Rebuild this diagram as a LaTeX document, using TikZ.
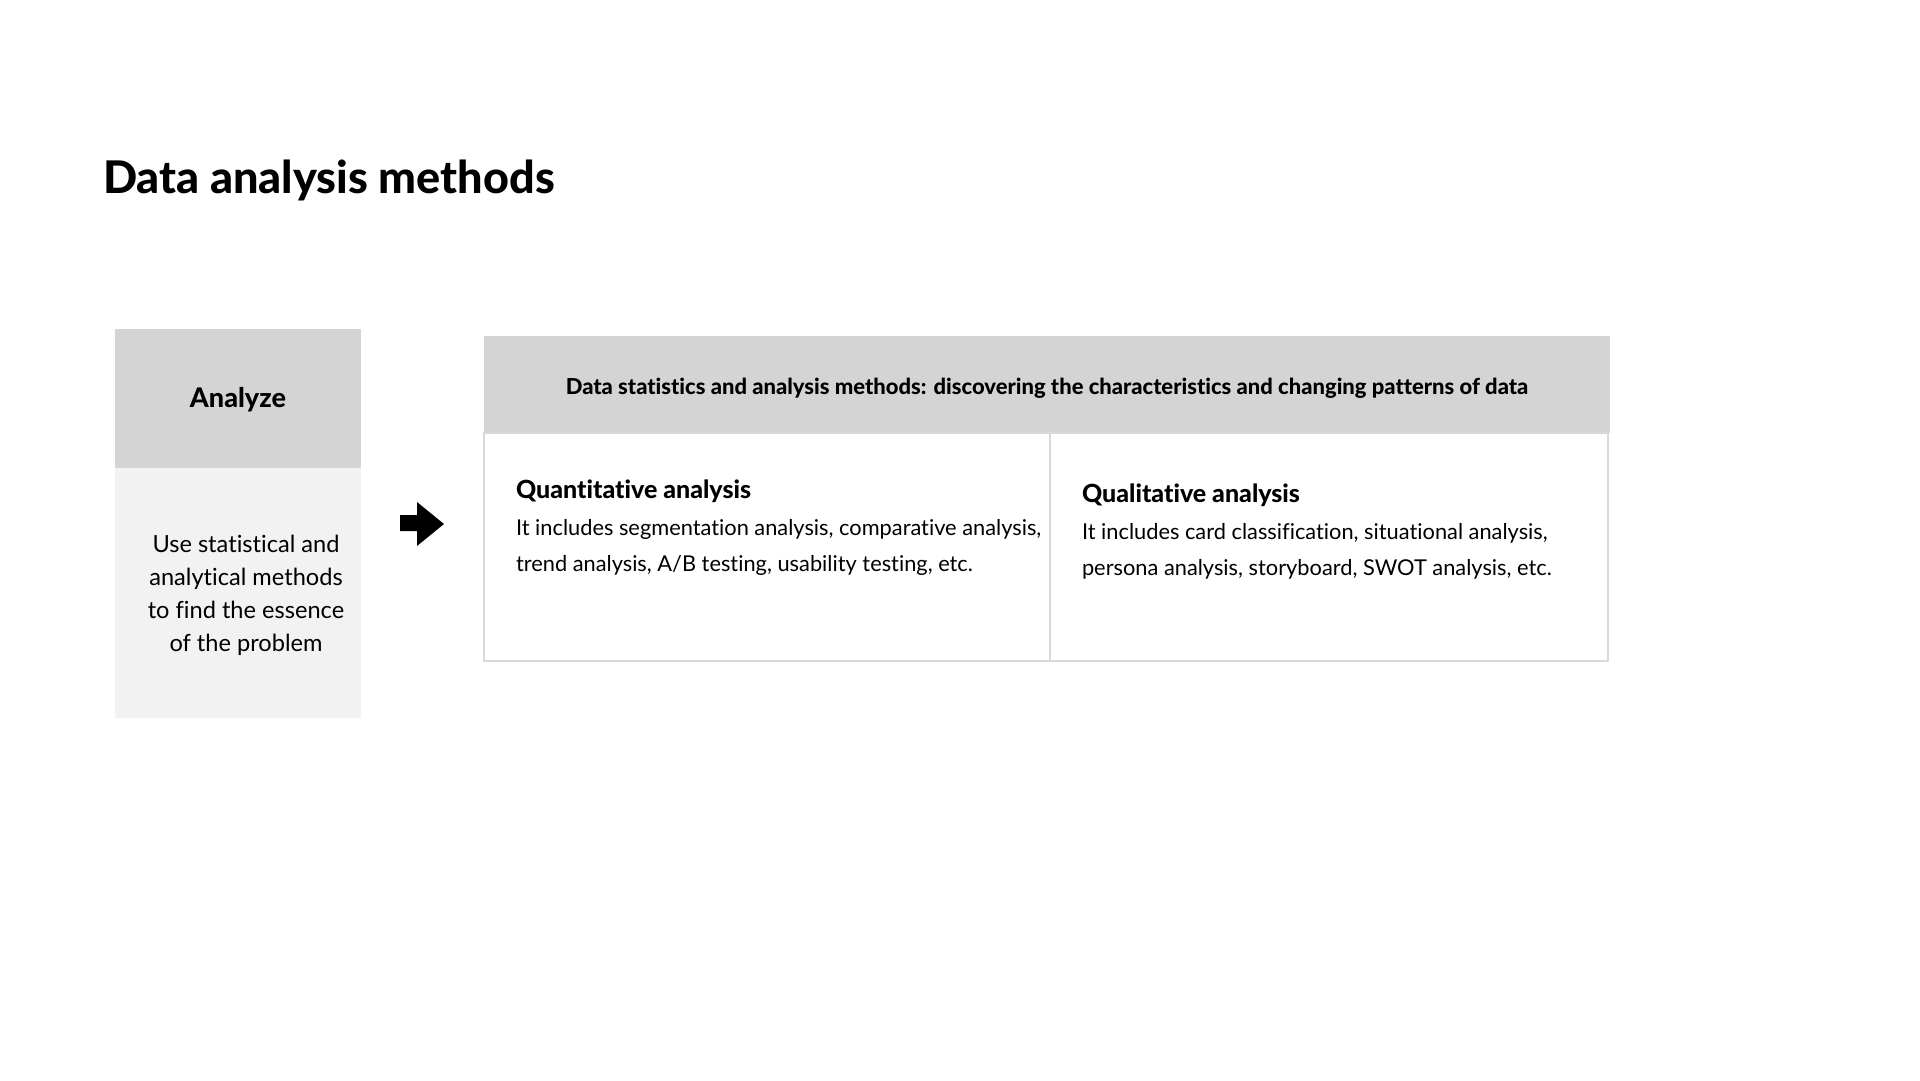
\documentclass[tikz,border=0pt]{standalone}
\usepackage{fontspec}
\setmainfont{Lato}[Ligatures=NoCommon]
\IfFontExistsTF{Lato Heavy}{\newfontfamily\heavy{Lato Heavy}[Ligatures=NoCommon]}{\newfontfamily\heavy{Lato}[Ligatures=NoCommon,UprightFont=*-Bold]}
\definecolor{hdrgray}{HTML}{D4D4D4}
\definecolor{lightbg}{HTML}{F1F2F1}
\definecolor{rulegray}{HTML}{D9D9D9}
\begin{document}
\begin{tikzpicture}[x=1pt,y=-1pt,
  every node/.style={inner sep=0pt, outer sep=0pt},
  titletxt/.style={font=\fontsize{45}{52}\selectfont\heavy, anchor=base west},
  boxtitle/.style={font=\fontsize{27}{32}\selectfont\heavy},
  bodytxt/.style={font=\fontsize{23.6}{33}\selectfont, align=center},
  subhead/.style={font=\fontsize{25}{30}\selectfont\heavy, anchor=base west},
  desc/.style={font=\fontsize{21.8}{36}\selectfont, anchor=north west, align=left},
  hdrtxt/.style={font=\fontsize{22}{26}\selectfont\heavy}]
\useasboundingbox (0,0) rectangle (1920,1080);
\fill[white] (0,0) rectangle (1920,1080);

\node[titletxt] (title) at (103,193) {Data analysis methods};

% left card
\fill[hdrgray] (115,329) rectangle (361,468);
\fill[lightbg] (115,468) rectangle (361,718);
\node[boxtitle] (analyze) at (238,400) {Analyze};
\node[bodytxt] (analyzebody) at (246,595) {Use statistical and\\analytical methods\\to find the essence\\of the problem};

% arrow
\fill[black] (400,515) -- (417,515) -- (417,502) -- (444,524) -- (417,546) -- (417,531) -- (400,531) -- cycle;

% right table
\fill[hdrgray] (484,336) rectangle (1610,433);
\node[hdrtxt] (header) at (1047,388) {Data statistics and analysis methods: discovering the characteristics and changing patterns of data};
\draw[rulegray, line width=1.5pt] (484,433) rectangle (1608,661);
\draw[rulegray, line width=1.5pt] (1050,433) -- (1050,661);

\node[subhead] (quant) at (516,498) {Quantitative analysis};
\node[desc] (quantbody) at (516,519) {It includes segmentation analysis, comparative analysis,\\trend analysis, A/B testing, usability testing, etc.};

\node[subhead] (qual) at (1082,502) {Qualitative analysis};
\node[desc] (qualbody) at (1082,523) {It includes card classification, situational analysis,\\persona analysis, storyboard, SWOT analysis, etc.};
\end{tikzpicture}
\end{document}
